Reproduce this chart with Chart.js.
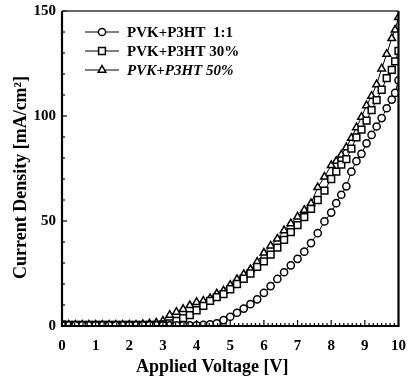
<!DOCTYPE html>
<html><head><meta charset="utf-8">
<script src="https://cdn.jsdelivr.net/npm/chart.js@4"></script>
<style>html,body{margin:0;padding:0;background:#fff}#wrap{width:417px;height:381px}</style>
</head><body><div id="wrap"><canvas id="c" width="417" height="381"></canvas></div>
<script>
// Applied voltage [V]
const voltage = [0,0.2,0.4,0.6,0.8,1.0,1.2,1.4,1.6,1.8,2.0,2.2,2.4,2.6,2.8,3.0,3.2,3.4,3.6,3.8,4.0,4.2,4.4,4.6,4.8,5.0,5.2,5.4,5.6,5.8,6.0,6.2,6.4,6.6,6.8,7.0,7.2,7.4,7.6,7.8,8.0,8.15,8.3,8.45,8.6,8.75,8.9,9.05,9.2,9.35,9.5,9.65,9.8,9.9,10.0];
// Current density [mA/cm2]
const pvk11 = [0.3,0.3,0.3,0.3,0.3,0.3,0.3,0.3,0.3,0.3,0.3,0.3,0.3,0.3,0.3,0.3,0.3,0.3,0.3,0.3,0.3,0.5,0.8,1.3,2.8,4.4,6.3,8.3,10.4,12.7,15.8,19.0,22.4,25.6,28.9,32.0,35.4,39.5,44.2,49.8,54.0,58.5,62.5,66.5,73.5,78.5,82.0,87.0,91.0,95.0,99.0,103.7,107.8,111.0,117.0];
const pvk30 = [0.8,0.5,0.5,0.5,0.5,0.5,0.5,0.5,0.5,0.5,0.5,0.5,0.5,0.5,0.5,0.8,1.3,2.4,3.8,5.2,7.5,9.6,12.0,13.8,15.2,17.5,20.0,22.5,25.0,28.2,30.8,34.0,37.3,41.0,44.7,48.0,51.8,55.8,60.0,64.5,70.0,73.5,76.8,79.5,84.5,89.8,93.5,97.8,102.8,107.6,112.5,118.0,122.0,126.0,131.0];
const pvk50 = [0.5,0.5,0.5,0.5,0.5,0.5,0.5,0.5,0.5,0.5,0.5,0.5,0.8,1.1,1.5,2.4,5.2,6.6,8.0,9.8,11.3,11.9,13.2,15.4,16.8,19.5,22.2,24.6,27.0,30.5,34.8,38.2,41.5,45.5,48.8,52.0,55.2,58.4,66.0,71.0,76.5,78.5,81.5,85.0,89.5,94.5,99.5,105.0,109.5,115.0,122.5,129.5,137.0,141.0,147.0];
const seriesNames = ['PVK+P3HT  1:1','PVK+P3HT 30%','PVK+P3HT 50%'];
const xTicks = [0,1,2,3,4,5,6,7,8,9,10];
const yTicks = [0,50,100,150];

const pts = arr => voltage.map((v,i)=>({x:v,y:arr[i]}));
const serif = '"Liberation Serif","Times New Roman",serif';

const mk = (label, data, style, r) => ({
  label, data: pts(data), borderColor:'#000', backgroundColor:'#fff',
  borderWidth:1, pointStyle:style, pointRadius:r, pointBorderWidth:1.5,
  pointBackgroundColor:'#fff', pointBorderColor:'#000', tension:0, fill:false
});

const framePlugin = {
  id:'frame',
  afterDatasetsDraw(chart){
    const {ctx, chartArea:a, scales:{x,y}} = chart;
    ctx.save();
    ctx.strokeStyle='#000';
    ctx.lineWidth=1.2;
    for(let v=0; v<=150.001; v+=10){
      const py=y.getPixelForValue(v); const len = (v%50===0)?5:3;
      ctx.beginPath(); ctx.moveTo(a.left,py); ctx.lineTo(a.left+len,py); ctx.stroke();
    }
    for(let k=0; k<=80; k++){
      const v=k*0.125; const px=x.getPixelForValue(v); const len=(k%8===0)?6:3;
      ctx.beginPath(); ctx.moveTo(px,a.bottom); ctx.lineTo(px,a.bottom-len); ctx.stroke();
    }
    ctx.lineWidth=1.3; ctx.strokeStyle='#333';
    ctx.beginPath(); ctx.moveTo(a.left,a.top); ctx.lineTo(a.right,a.top); ctx.stroke();
    ctx.strokeStyle='#000'; ctx.lineWidth=2.2;
    ctx.beginPath(); ctx.moveTo(a.left,a.top); ctx.lineTo(a.left,a.bottom); ctx.lineTo(a.right,a.bottom); ctx.lineTo(a.right,a.top); ctx.stroke();
    const rows=[32,51,70];
    chart.data.datasets.forEach((ds,i)=>{
      const yy=rows[i];
      ctx.lineWidth=1.2; ctx.strokeStyle='#000';
      ctx.beginPath(); ctx.moveTo(85,yy); ctx.lineTo(119,yy); ctx.stroke();
      ctx.fillStyle='#fff'; ctx.lineWidth=1.5;
      Chart.helpers.drawPoint(ctx,{pointStyle:ds.pointStyle,radius:ds.pointRadius,borderWidth:1.5,rotation:0},102,yy);
      ctx.fillStyle='#000';
      ctx.font=(i===2?'italic ':'')+'bold 15px '+serif;
      ctx.textBaseline='middle'; ctx.textAlign='left';
      ctx.fillText(ds.label,127,yy+1);
    });
    ctx.restore();
  }
};

new Chart(document.getElementById('c'), {
  type:'line',
  data:{ datasets:[ mk(seriesNames[0],pvk11,'circle',3.6), mk(seriesNames[1],pvk30,'rect',4.8), mk(seriesNames[2],pvk50,'triangle',4.4) ] },
  options:{
    responsive:false, animation:false, devicePixelRatio:1,
    layout:{padding:{top:11,right:9,left:0,bottom:0}},
    plugins:{legend:{display:false}, tooltip:{enabled:false}},
    scales:{
      x:{ type:'linear', min:0, max:10,
        afterBuildTicks(s){ s.ticks = xTicks.map(v=>({value:v})); },
        afterFit(s){ s.height=55; },
        grid:{display:false, drawTicks:false}, border:{display:false},
        ticks:{ padding:11, color:'#000', font:{family:serif, weight:'bold', size:15}, maxRotation:0, autoSkip:false },
        title:{ display:true, text:'Applied Voltage [V]\u00a0\u00a0\u00a0\u00a0\u00a0\u00a0\u00a0\u00a0', color:'#000', font:{family:serif, weight:'bold', size:18}, padding:{top:0,bottom:3} }
      },
      y:{ min:0, max:150,
        afterBuildTicks(s){ s.ticks = yTicks.map(v=>({value:v})); },
        afterFit(s){ s.width=62; s.paddingTop=0; s.paddingBottom=0; },
        grid:{display:false, drawTicks:false}, border:{display:false},
        ticks:{ padding:6, color:'#000', font:{family:serif, weight:'bold', size:15} },
        title:{ display:true, text:'Current Density [mA/cm²]\u00a0\u00a0\u00a0\u00a0', color:'#000', font:{family:serif, weight:'bold', size:18}, padding:{top:11,bottom:0} }
      }
    }
  },
  plugins:[framePlugin]
});
</script></body></html>
